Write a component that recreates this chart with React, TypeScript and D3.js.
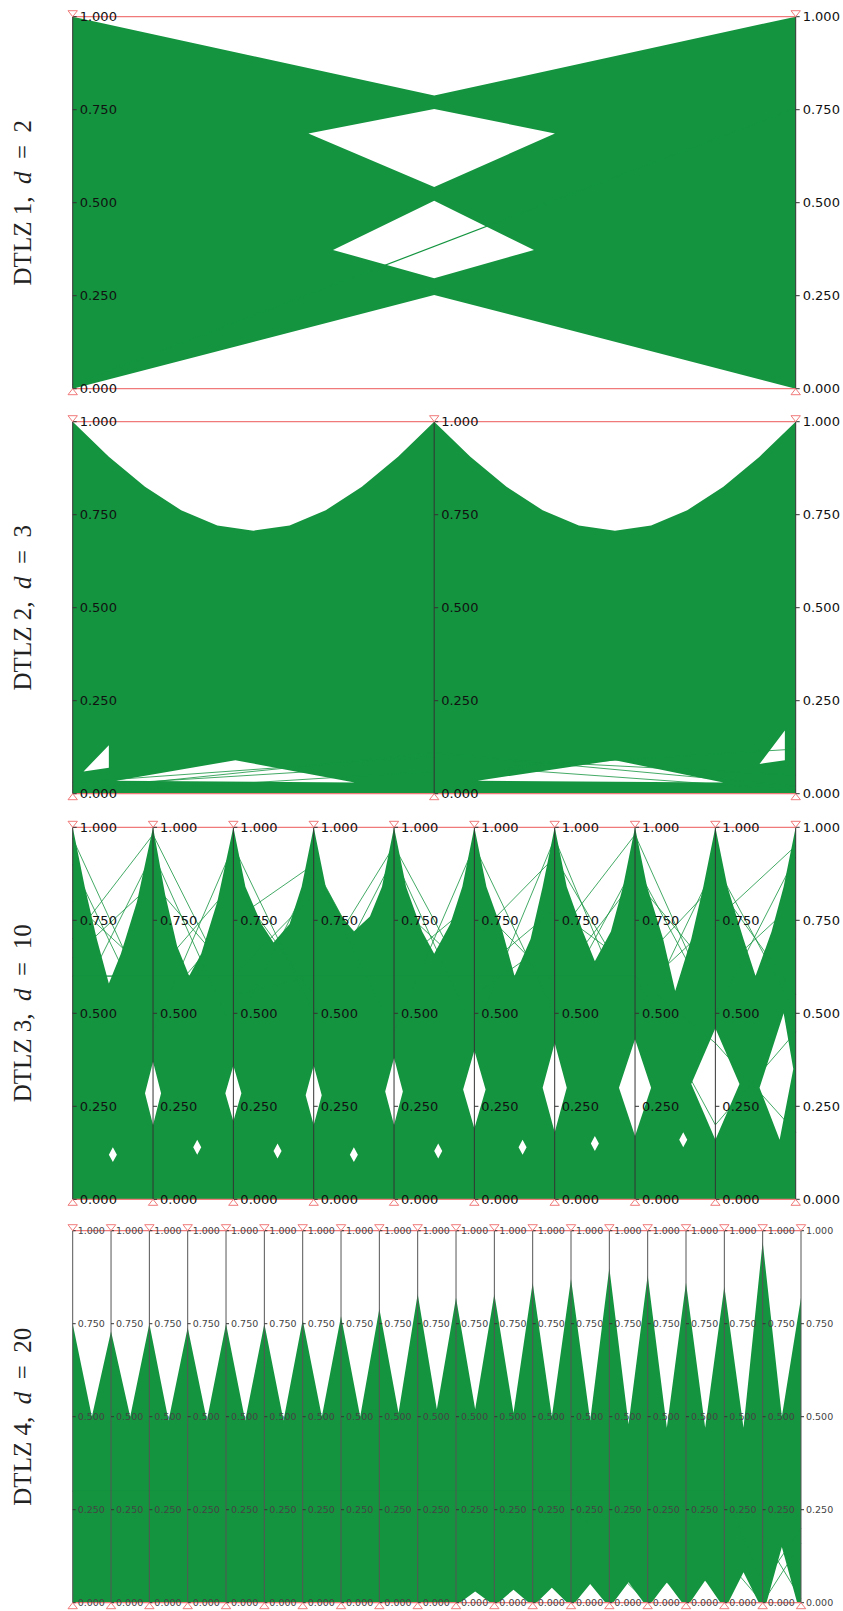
import React from 'react'
import * as d3 from 'd3'

type Pt = [number, number]

const WIDTH = 843
const HEIGHT = 1611
const LEFT = 72.7
const PANEL_RIGHT = [795.7, 795.7, 795.7, 801]
const PANEL_TOPS = [16.7, 421.7, 827.3, 1230.7]
const PANEL_H = 372

const panelNames = ['DTLZ 1', 'DTLZ 2', 'DTLZ 3', 'DTLZ 4']
const panelDims = [2, 3, 10, 20]
const tickValues = [0, 0.25, 0.5, 0.75, 1]

// envelopes of the green line bundle, x in axis-index units
const dtlz1Upper: Pt[] = [[0, 1], [0.5, 0.788], [1, 1]]
const dtlz1Lower: Pt[] = [[0, 0], [0.5, 0.252], [1, 0]]
const dtlz1Holes: Pt[][] = [
  [[0.5, 0.752], [0.667, 0.686], [0.5, 0.542], [0.326, 0.686]],
  [[0.5, 0.505], [0.638, 0.373], [0.5, 0.297], [0.36, 0.373]],
]
const dtlz1Lines: number[][] = [[0.011, 0.754]]

const dtlz2Upper: Pt[] = [
  [0, 1], [0.1, 0.906], [0.2, 0.825], [0.3, 0.762], [0.4, 0.721], [0.5, 0.707],
  [0.6, 0.721], [0.7, 0.762], [0.8, 0.825], [0.9, 0.906], [1, 1],
  [1.1, 0.906], [1.2, 0.825], [1.3, 0.762], [1.4, 0.721], [1.5, 0.707],
  [1.6, 0.721], [1.7, 0.762], [1.8, 0.825], [1.9, 0.906], [2, 1],
]
const dtlz2Lower: Pt[] = [[0, 0], [2, 0]]
const dtlz2Holes: Pt[][] = [
  [[0.12, 0.035], [0.45, 0.09], [0.78, 0.03]],
  [[0.03, 0.06], [0.1, 0.13], [0.1, 0.07]],
  [[1.12, 0.035], [1.5, 0.09], [1.8, 0.03]],
  [[1.9, 0.08], [1.97, 0.17], [1.97, 0.09]],
]
// single rows that cross the white wedges
const dtlz2Lines: number[][] = [
  [0.01, 0.11, 0.02], [0.02, 0.08, 0.01], [0.0, 0.06, 0.12], [0.03, 0.1, 0.05],
]

const dtlz3Upper: Pt[] = [
  [0, 1], [0.15, 0.84], [0.3, 0.7], [0.45, 0.58], [0.6, 0.66], [0.8, 0.8], [1, 1],
  [1.15, 0.82], [1.3, 0.68], [1.45, 0.6], [1.6, 0.66], [1.8, 0.8], [2, 1],
  [2.15, 0.84], [2.35, 0.74], [2.5, 0.69], [2.7, 0.74], [2.85, 0.84], [3, 1],
  [3.15, 0.84], [3.35, 0.76], [3.5, 0.72], [3.7, 0.76], [3.85, 0.84], [4, 1],
  [4.15, 0.84], [4.35, 0.72], [4.5, 0.66], [4.7, 0.74], [4.85, 0.84], [5, 1],
  [5.15, 0.84], [5.35, 0.72], [5.5, 0.6], [5.7, 0.7], [5.85, 0.84], [6, 1],
  [6.15, 0.84], [6.35, 0.72], [6.5, 0.64], [6.7, 0.72], [6.85, 0.84], [7, 1],
  [7.15, 0.84], [7.35, 0.7], [7.5, 0.56], [7.7, 0.7], [7.85, 0.84], [8, 1],
  [8.15, 0.84], [8.35, 0.7], [8.5, 0.6], [8.7, 0.72], [8.85, 0.84], [9, 1],
]
const dtlz3Lower: Pt[] = [[0, 0], [9, 0]]
// white lens around each inner axis: [axis, half width, top, bottom]
const dtlz3Lens = [
  [1, 0.1, 0.37, 0.2], [2, 0.1, 0.36, 0.21], [3, 0.1, 0.36, 0.2], [4, 0.11, 0.38, 0.2],
  [5, 0.14, 0.4, 0.19], [6, 0.15, 0.42, 0.18], [7, 0.2, 0.43, 0.17], [8, 0.3, 0.46, 0.16],
]
// small speckles low in each segment: [x, value]
const dtlz3Specks: Pt[] = [[0.5, 0.12], [1.55, 0.14], [2.55, 0.13], [3.5, 0.12], [4.55, 0.13], [5.6, 0.14], [6.5, 0.15], [7.6, 0.16]]
const dtlz3Holes: Pt[][] = [
  ...dtlz3Lens.map(([a, w, t, b]) => [[a - w, (t + b) / 2], [a, t], [a + w, (t + b) / 2], [a, b]] as Pt[]),
  [[8.55, 0.3], [8.85, 0.5], [8.97, 0.35], [8.8, 0.16]],
  ...dtlz3Specks.map(([sx, sv]) => [[sx - 0.05, sv], [sx, sv + 0.02], [sx + 0.05, sv], [sx, sv - 0.02]] as Pt[]),
]
// rows that leave the bundle and hatch the white notches
const dtlz3Lines: number[][] = [
  [0.9, 0.45, 0.95, 0.5, 0.92, 0.45, 0.97, 0.45, 0.9, 0.5],
  [0.5, 0.93, 0.45, 0.88, 0.45, 0.95, 0.5, 0.9, 0.5, 0.92],
  [0.8, 0.6, 0.85, 0.55, 0.8, 0.6, 0.78, 0.62, 0.85, 0.55],
  [0.65, 0.85, 0.6, 0.82, 0.62, 0.8, 0.58, 0.86, 0.6, 0.8],
  [0.97, 0.5, 0.75, 0.9, 0.5, 0.7, 0.92, 0.55, 0.75, 0.95],
  [0.7, 0.98, 0.55, 0.6, 0.95, 0.55, 0.7, 0.98, 0.5, 0.7],
  [0.6, 0.6, 0.6, 0.6, 0.6, 0.6, 0.6, 0.6, 0.42, 0.18],
  [0.6, 0.6, 0.6, 0.6, 0.6, 0.6, 0.6, 0.6, 0.2, 0.45],
]

const dtlz4Peaks = [0.75, 0.73, 0.75, 0.74, 0.75, 0.75, 0.76, 0.77, 0.79, 0.83, 0.82, 0.83, 0.86, 0.87, 0.9, 0.88, 0.86, 0.85, 0.97, 0.82]
const dtlz4Valleys = [0.5, 0.5, 0.49, 0.49, 0.49, 0.49, 0.5, 0.5, 0.51, 0.52, 0.52, 0.51, 0.5, 0.49, 0.48, 0.47, 0.47, 0.47, 0.5]
const dtlz4Gaps = [0, 0, 0, 0, 0, 0, 0, 0, 0, 0, 0.03, 0.035, 0.04, 0.05, 0.055, 0.055, 0.06, 0.082, 0.15]
const dtlz4Upper: Pt[] = dtlz4Peaks.flatMap((p, i) =>
  i < dtlz4Valleys.length ? [[i, p], [i + 0.5, dtlz4Valleys[i]]] as Pt[] : [[i, p]] as Pt[])
const dtlz4Lower: Pt[] = [[0, 0], [19, 0]]
const dtlz4Holes: Pt[][] = dtlz4Gaps
  .map((g, i) => [[i + 0.1, 0], [i + 0.5, g], [i + 0.9, 0]] as Pt[])
  .filter(r => r[1][1] > 0)
const dtlz4Lines: number[][] = [
  [0.3, 0.3, 0.3, 0.3, 0.3, 0.3, 0.3, 0.3, 0.3, 0.3, 0.3, 0.3, 0.3, 0.3, 0.02, 0.1, 0.01, 0.12, 0.0, 0.16],
  [0.3, 0.3, 0.3, 0.3, 0.3, 0.3, 0.3, 0.3, 0.3, 0.3, 0.3, 0.3, 0.3, 0.3, 0.1, 0.0, 0.11, 0.01, 0.18, 0.01],
  [0.3, 0.3, 0.3, 0.3, 0.3, 0.3, 0.3, 0.3, 0.3, 0.3, 0.3, 0.3, 0.3, 0.3, 0.3, 0.3, 0.3, 0.3, 0.05, 0.2],
]

const panelUpper = [dtlz1Upper, dtlz2Upper, dtlz3Upper, dtlz4Upper]
const panelLower = [dtlz1Lower, dtlz2Lower, dtlz3Lower, dtlz4Lower]
const panelHoles = [dtlz1Holes, dtlz2Holes, dtlz3Holes, dtlz4Holes]
const panelLines = [dtlz1Lines, dtlz2Lines, dtlz3Lines, dtlz4Lines]

const GREEN = '#14943f'
const RED = '#f07a7a'

function Panel({ index }: { index: number }) {
  const dims = panelDims[index]
  const top = PANEL_TOPS[index]
  const small = dims > 10
  const x = d3.scaleLinear().domain([0, dims - 1]).range([LEFT, PANEL_RIGHT[index]])
  const y = d3.scaleLinear().domain([0, 1]).range([top + PANEL_H, top])
  const ring = d3.line<Pt>().x(d => x(d[0])).y(d => y(d[1]))
  const outer = [...panelUpper[index], ...[...panelLower[index]].reverse()]
  const d = [outer, ...panelHoles[index]].map(r => ring(r) + 'Z').join('')
  const row = d3.line<number>().x((_, i) => x(i)).y(v => y(v))
  const axes = d3.range(dims)
  const fs = small ? 9.5 : 13
  const midY = top + PANEL_H / 2
  return (
    <g>
      <path d={d} fill={GREEN} fillRule="evenodd" />
      {panelLines[index].map((r, i) => (
        <path key={i} d={row(r) ?? ''} fill="none" stroke={GREEN} strokeWidth={index === 0 ? 1.2 : 0.8} />
      ))}
      <line x1={x(0)} x2={x(dims - 1)} y1={y(1)} y2={y(1)} stroke={RED} strokeWidth={1.3} />
      <line x1={x(0)} x2={x(dims - 1)} y1={y(0)} y2={y(0)} stroke={RED} strokeWidth={1.3} />
      {axes.map(a => (
        <g key={a} transform={`translate(${x(a)},0)`}>
          <line y1={y(0)} y2={y(1)} stroke={small ? '#555' : '#333'} strokeWidth={1} />
          {tickValues.map(t => (
            <g key={t} transform={`translate(0,${y(t)})`}>
              <line x1={0} x2={small ? 3 : 4} stroke="#333" />
              <text x={small ? 5 : 7} dy="0.35em" fontSize={fs}
                fontFamily="DejaVu Sans" fill={small ? '#444' : '#111'}>{t.toFixed(3)}</text>
            </g>
          ))}
          <path d={`M-4.7,${y(1) - 6}L4.7,${y(1) - 6}L0,${y(1)}Z`} fill="white" stroke={RED} strokeWidth={1} />
          <path d={`M-4.7,${y(0) + 6}L4.7,${y(0) + 6}L0,${y(0)}Z`} fill="white" stroke={RED} strokeWidth={1} />
        </g>
      ))}
      <text transform={`translate(31,${midY}) rotate(-90)`} textAnchor="middle"
        fontFamily="Liberation Serif" fontSize={25} fill="#222">
        {panelNames[index]},{'\u2002'}<tspan fontStyle="italic">d</tspan>{'\u2002'}={'\u2002'}{dims}
      </text>
    </g>
  )
}

export default function App() {
  return (
    <svg width={WIDTH} height={HEIGHT} style={{ position: 'absolute', left: 0, top: 0, background: 'white' }}>
      {panelNames.map((_, i) => <Panel key={i} index={i} />)}
    </svg>
  )
}
